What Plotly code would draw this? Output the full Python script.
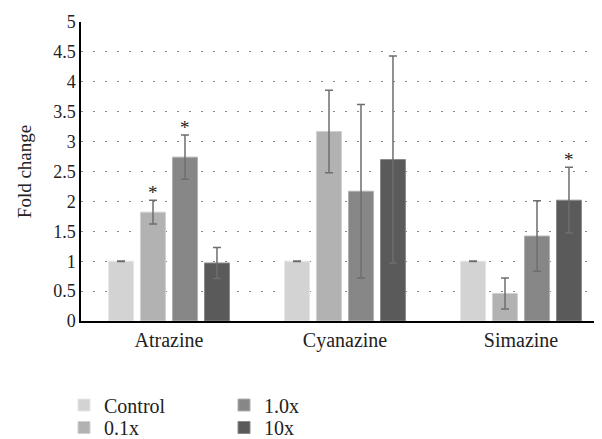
import plotly.graph_objects as go

categories = ["Atrazine", "Cyanazine", "Simazine"]
series_names = ["Control", "0.1x", "1.0x", "10x"]
colors = ["#d3d3d3", "#b2b2b2", "#878787", "#5a5a5a"]
line_colors = ["#e6e6e6", "#d0d0d0", "#b0b0b0", "#8a8a8a"]

control = [1.0, 1.0, 1.0]
x01 = [1.82, 3.17, 0.46]
x10 = [2.74, 2.17, 1.42]
x100 = [0.97, 2.70, 2.02]

err_control = [0.005, 0.005, 0.005]
err_01 = [0.20, 0.69, 0.26]
err_10 = [0.37, 1.45, 0.59]
err_100 = [0.26, 1.73, 0.55]

# significance markers: (category index, series index)
stars = [(0, 1), (0, 2), (2, 3)]

values = [control, x01, x10, x100]
errors = [err_control, err_01, err_10, err_100]

xpos = list(range(len(categories)))
bargap = 0.273
serif = "Liberation Serif"
fs = 18
fs_big = 20
txt = "#222"

# page body has an 8px margin; figure is sized to fill the rest of the window
OFF = 8
W, H = 602 - OFF, 439 - OFF
ML, MR, MT, MB = 81 - OFF, 0, 22 - OFF, 118
PW, PH = W - ML - MR, H - MT - MB

fig = go.Figure()
for i, name in enumerate(series_names):
    fig.add_trace(go.Bar(
        x=xpos, y=values[i], name=name,
        marker=dict(color=colors[i], line=dict(color=line_colors[i], width=1)),
        error_y=dict(type="data", array=errors[i], visible=True,
                     color="#6e6e6e", thickness=1.5, width=4),
        legend="legend" if i == 0 else f"legend{i+1}",
    ))

slot = (1 - bargap) / len(series_names)
for ci, si in stars:
    xc = xpos[ci] + (si - (len(series_names) - 1) / 2) * slot
    fig.add_annotation(x=xc, y=values[si][ci] + errors[si][ci], text="*",
                       showarrow=False, yanchor="bottom", yshift=-5,
                       font=dict(family=serif, size=19, color=txt))

legend_pos = [(85, 405), (85, 427.5), (245, 405), (245, 427.5)]
legends = {}
for i, (lx, ly) in enumerate(legend_pos):
    key = "legend" if i == 0 else f"legend{i+1}"
    legends[key] = dict(x=(lx - OFF - 21 - ML) / PW, y=(MT + PH - (ly - OFF)) / PH,
                        xanchor="left", yanchor="middle",
                        bgcolor="rgba(0,0,0,0)",
                        font=dict(family=serif, size=fs_big, color=txt))

fig.update_layout(
    width=W, height=H,
    margin=dict(l=ML, r=MR, t=MT, b=MB, autoexpand=False),
    paper_bgcolor="white", plot_bgcolor="white",
    barmode="group", bargap=bargap, bargroupgap=0.22,
    font=dict(family=serif, size=fs, color=txt),
    showlegend=True,
    **legends,
)
fig.update_xaxes(
    range=[-0.5, -0.5 + PW / 176], tickvals=xpos, ticktext=categories,
    showgrid=False, showline=True, linecolor="#000", linewidth=1.5,
    ticks="", tickfont=dict(family=serif, size=fs_big, color=txt),
)
fig.update_yaxes(
    range=[0, 5], dtick=0.5, showline=True, linecolor="#000", linewidth=1.5,
    showgrid=True, gridcolor="#888", gridwidth=1, griddash="2px,10px",
    zeroline=False, ticks="", tickfont=dict(family=serif, size=fs, color=txt),
    title=dict(text="Fold change", font=dict(family=serif, size=19, color=txt), standoff=17),
)
fig.write_html("out.html")
